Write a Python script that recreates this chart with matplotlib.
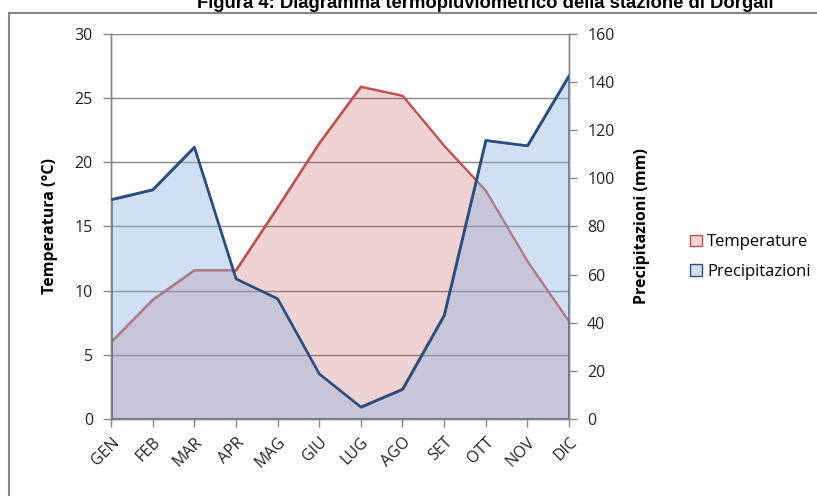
import matplotlib.pyplot as plt
import numpy as np
from matplotlib.patches import Patch, Rectangle

# Dati stazione di Dorgali
mesi = ["GEN", "FEB", "MAR", "APR", "MAG", "GIU", "LUG", "AGO", "SET", "OTT", "NOV", "DIC"]
temperature = [6.0, 9.3, 11.6, 11.6, 16.5, 21.5, 25.9, 25.2, 21.3, 17.8, 12.3, 7.6]
precipitazioni = [91.2, 95.3, 113.0, 58.3, 50.0, 18.8, 5.0, 12.4, 43.1, 115.8, 113.6, 142.7]

plt.rcParams['font.family'] = ['Open Sans', 'DejaVu Sans']

rosso = '#C0504D'
blu = '#2C4D7F'
grigio = '#868686'

fig = plt.figure(figsize=(8.17, 4.96), dpi=100)
ax = fig.add_axes([111/817, 1-419/496, (569-111)/817, (419-34)/496])
ax2 = ax.twinx()

x = np.arange(len(mesi))

# Temperature (asse primario)
ax.fill_between(x, temperature, 0, facecolor=(0.753, 0.314, 0.302, 0.25),
                edgecolor=rosso, linewidth=1.3, zorder=2)
ax.plot(x, temperature, color=rosso, linewidth=1.5, zorder=3)

# Precipitazioni (asse secondario)
ax2.fill_between(x, precipitazioni, 0, facecolor=(143/255, 181/255, 226/255, 0.42),
                 edgecolor=blu, linewidth=1.5, zorder=2)
ax2.plot(x, precipitazioni, color=blu, linewidth=1.8, zorder=3)

ax.set_xlim(0, 11)
ax.set_ylim(0, 30)
ax2.set_ylim(0, 160)
ax.set_yticks(range(0, 31, 5))
ax2.set_yticks(range(0, 161, 20))
ax.set_xticks(x)
ax.set_xticklabels(mesi, rotation=45, ha='right', rotation_mode='anchor')

ax.yaxis.grid(True, color=grigio, linewidth=1.0)
ax.set_axisbelow(True)

for a in (ax, ax2):
    for s in a.spines.values():
        s.set_color(grigio)
        s.set_linewidth(1.0)
    a.spines['top'].set_visible(False)
    a.tick_params(axis='both', colors=grigio, length=6, width=1.0,
                  labelcolor='#222222', labelsize=11.5, pad=7)
ax.tick_params(axis='x', pad=5)

ax.set_ylabel("Temperatura (°C)", fontsize=11.5, fontweight='bold', labelpad=12)
ax2.set_ylabel("Precipitazioni (mm)", fontsize=11.5, fontweight='bold', labelpad=14)

legenda = [Patch(facecolor='#F2D3D2', edgecolor=rosso, label='Temperature'),
           Patch(facecolor='#D0E0F3', edgecolor=blu, label='Precipitazioni')]
fig.legend(handles=legenda, loc='center left', bbox_to_anchor=(682/817, 1-257/496),
           frameon=False, fontsize=12, handlelength=0.7, handleheight=0.7,
           handletextpad=0.3, labelspacing=0.8, borderpad=0)

# cornice esterna
fig.add_artist(Rectangle((9/817, -0.1), 1.0, 1-13/496+0.1, transform=fig.transFigure,
                         fill=False, edgecolor=grigio, linewidth=1.5))

fig.text(485/817, 1-8/496, "Figura 4: Diagramma termopluviometrico della stazione di Dorgali",
         ha='center', va='baseline', fontsize=13.3, fontweight='bold',
         family=['Liberation Sans', 'DejaVu Sans'])

fig.savefig("out.png", dpi=100)
